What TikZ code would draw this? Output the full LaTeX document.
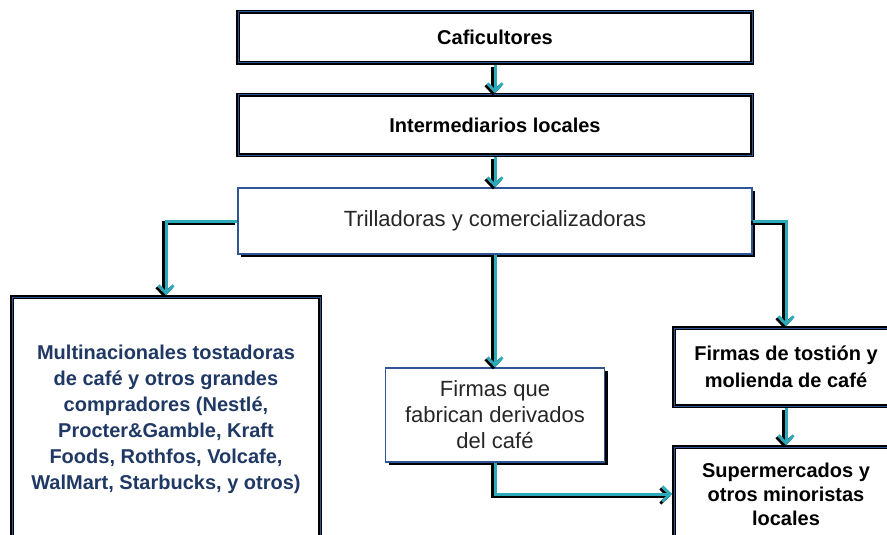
\documentclass[tikz,border=0pt]{standalone}
\usepackage{fontspec}
\setmainfont{Liberation Sans}
\usetikzlibrary{arrows.meta,shadows}
\definecolor{linkteal}{HTML}{2DAABA}
\definecolor{boxblue}{HTML}{2F5597}
\definecolor{txtnavy}{HTML}{1F3864}
\definecolor{txtgray}{HTML}{262626}

\begin{document}
\begin{tikzpicture}[x=1pt,y=-1pt,
  thinbox/.style={draw=boxblue,line width=1.2pt,fill=white,align=center,text=txtgray,font=\fontsize{22}{26}\selectfont,
    drop shadow={shadow xshift=3pt,shadow yshift=-3pt,fill=black,opacity=1}},
  thickbox/.style={draw=black,line width=3.4pt,fill=white,align=center,font=\bfseries\fontsize{20}{26}\selectfont,
    postaction={draw=boxblue,line width=1pt}},
  link/.style={draw=linkteal,line width=3pt,-{Straight Barb[length=8pt,width=15pt,line width=2.8pt]},
    preaction={draw=black,line width=3.4pt,transform canvas={xshift=-2pt,yshift=-2pt}}}]
\useasboundingbox (0,0) rectangle (887,535);\clip (0,0) rectangle (887,535);
% chain
\node[thickbox,minimum width=514,minimum height=51] (cafic) at (495,37.5) {Caficultores};
\node[thickbox,minimum width=514,minimum height=60] (interm) at (495,125) {Intermediarios locales};
\node[thinbox,minimum width=514,minimum height=66] (trill) at (495,221) {Trilladoras y comercializadoras};
% buyers
\node[thickbox,text=txtnavy,minimum width=308,minimum height=244] (multi) at (166,419) {Multinacionales tostadoras\\de café y otros grandes\\compradores (Nestlé,\\Procter\&Gamble, Kraft\\Foods, Rothfos, Volcafe,\\WalMart, Starbucks, y otros)};
\node[thinbox,minimum width=219,minimum height=94] (deriv) at (495,415) {Firmas que\\fabrican derivados\\del café};
\node[thickbox,minimum width=224,minimum height=78,font=\bfseries\fontsize{20}{27}\selectfont] (tostion) at (786,367) {Firmas de tostión y\\molienda de café};
\node[thickbox,minimum width=224,minimum height=94,font=\bfseries\fontsize{20}{24}\selectfont] (super) at (786,494) {Supermercados y\\otros minoristas\\locales};
% links
\foreach \a/\b in {cafic/interm,interm/trill,trill/deriv,tostion/super}{\draw[link] (\a.south)--(\b.north);}
\draw[link] (trill.west) -| (multi.north);
\draw[link] (trill.east) -| (tostion.north);
\draw[link] (deriv.south) |- (super.west);
\end{tikzpicture}
\end{document}
